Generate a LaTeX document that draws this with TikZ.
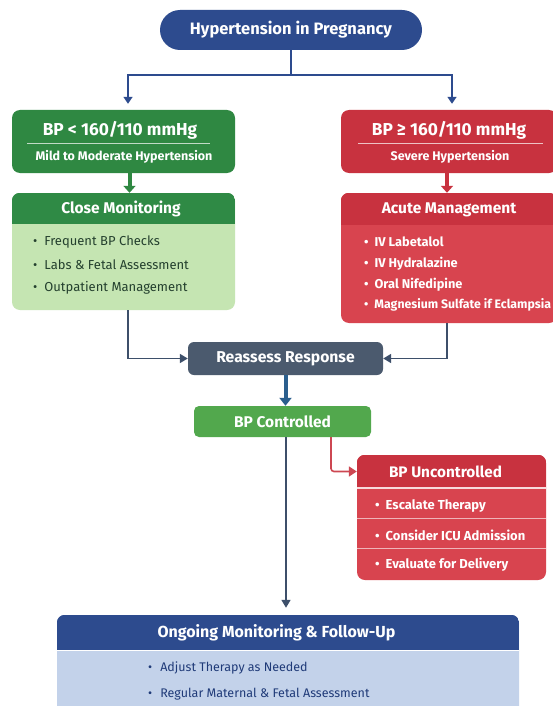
\documentclass[tikz,border=0pt]{standalone}
\usepackage{fontspec}
\setmainfont{Fira Sans}
\usetikzlibrary{arrows.meta,calc}
\definecolor{navyc}{HTML}{2D4B8E}
\definecolor{greenA}{HTML}{2F8842}
\definecolor{greenH}{HTML}{2F8A45}
\definecolor{greenL}{HTML}{C5E5B2}
\definecolor{greenT}{HTML}{24402E}
\definecolor{redA}{HTML}{C8323F}
\definecolor{redB}{HTML}{D8444F}
\definecolor{slatec}{HTML}{4B5A6E}
\definecolor{bluearr}{HTML}{2B5F8E}
\definecolor{greenC}{HTML}{52A84D}
\definecolor{blueL}{HTML}{C3D2EA}
\definecolor{navyT}{HTML}{1F3A78}
\definecolor{linec}{HTML}{3D4F6A}
\tikzset{
  panel/.style={draw=none, rounded corners=8pt, inner sep=0pt},
  hdr/.style={text=white, font=\fontsize{15.5}{18}\selectfont\bfseries},
  itm/.style={anchor=west, inner sep=0pt, font=\fontsize{13}{15}\selectfont},
  conn/.style={draw=linec, line width=1.6pt, -{Triangle[width=9pt,length=8pt]}},
  fat/.style={line width=4pt, -{Triangle[width=12pt,length=7pt]}, shorten >=0pt}
}
\begin{document}
\begin{tikzpicture}[x=1pt,y=-1pt]
\useasboundingbox (0,0) rectangle (553,706);
\fill[white] (0,0) rectangle (553,706);

% title
\node[panel, fill=navyc, rounded corners=20pt, minimum width=262pt, minimum height=40pt] (title) at (291,30) {};
\node[text=white, font=\fontsize{16.5}{19}\selectfont\bfseries] (titlet) at (title.center) {Hypertension in Pregnancy};

% left top
\node[panel, fill=greenA, minimum width=223pt, minimum height=63pt] (lb) at (123.5,141.5) {};
\node[text=white, font=\fontsize{17.3}{19}\selectfont\bfseries] (lbt) at (120,130) {BP < 160/110 mmHg};
\draw[white!70!greenA, line width=0.8pt] (27,143.5) -- (210,143.5);
\node[text=white, font=\fontsize{12.5}{14}\selectfont\bfseries] (lbs) at (124,157) {Mild to Moderate Hypertension};

% close monitoring
\node[panel, fill=greenL, minimum width=223pt, minimum height=117pt] (cm) at (123.5,251.5) {};
\begin{scope}
\clip[rounded corners=8pt] (cm.north west) rectangle (cm.south east);
\fill[greenH] (cm.north west) rectangle ($(cm.north east)+(0,31)$);
\end{scope}
\node[hdr] (cmh) at (121,209) {Close Monitoring};
\node[itm, text=greenT] (cm1) at (33,242) {•\hspace{7pt}Frequent BP Checks};
\node[itm, text=greenT] (cm2) at (33,265) {•\hspace{7pt}Labs \& Fetal Assessment};
\node[itm, text=greenT] (cm3) at (33,288) {•\hspace{7pt}Outpatient Management};

% right top
\node[panel, fill=redA, minimum width=216pt, minimum height=63pt] (rb) at (449,141.5) {};
\node[text=white, font=\fontsize{17.3}{19}\selectfont\bfseries] (rbt) at (449,130) {BP ≥ 160/110 mmHg};
\draw[white!70!redA, line width=0.8pt] (358,143.5) -- (543,143.5);
\node[text=white, font=\fontsize{12.5}{14}\selectfont\bfseries] (rbs) at (450,157) {Severe Hypertension};

% acute management
\node[panel, fill=redB, minimum width=216pt, minimum height=130pt] (am) at (449,258) {};
\begin{scope}
\clip[rounded corners=8pt] (am.north west) rectangle (am.south east);
\fill[redA] (am.north west) rectangle ($(am.north east)+(0,32)$);
\end{scope}
\node[hdr] (amh) at (449,209.5) {Acute Management};
\node[itm, text=white, font=\fontsize{12.8}{15}\selectfont\bfseries] (am1) at (364,242) {•\hspace{6pt}IV Labetalol};
\node[itm, text=white, font=\fontsize{12.8}{15}\selectfont\bfseries] (am2) at (364,264) {•\hspace{6pt}IV Hydralazine};
\node[itm, text=white, font=\fontsize{12.8}{15}\selectfont\bfseries] (am3) at (364,285) {•\hspace{6pt}Oral Nifedipine};
\node[itm, text=white, font=\fontsize{12.3}{15}\selectfont\bfseries] (am4) at (364,305) {•\hspace{6pt}Magnesium Sulfate if Eclampsia};

% reassess
\node[panel, fill=slatec, rounded corners=6pt, minimum width=195pt, minimum height=33pt, text=white, font=\fontsize{15.7}{18}\selectfont\bfseries] (rr) at (285.5,358.5) {Reassess Response};

% BP controlled
\node[panel, fill=greenC, rounded corners=5pt, minimum width=177pt, minimum height=31pt, text=white, font=\fontsize{15.5}{18}\selectfont\bfseries] (bc) at (282.5,421.5) {BP Controlled};

% BP uncontrolled
\node[panel, fill=redB, minimum width=189pt, minimum height=125pt] (bu) at (451.5,517.5) {};
\begin{scope}
\clip[rounded corners=8pt] (bu.north west) rectangle (bu.south east);
\fill[redA] (bu.north west) rectangle ($(bu.north east)+(0,32)$);
\end{scope}
\draw[white!80!redB, line width=1.5pt] ($(bu.north west)+(0,33)$) -- ($(bu.north east)+(0,33)$);
\draw[white!60!redB, line width=1pt] ($(bu.north west)+(0,64)$) -- ($(bu.north east)+(0,64)$);
\draw[white!60!redB, line width=1pt] ($(bu.north west)+(0,94)$) -- ($(bu.north east)+(0,94)$);
\node[hdr, font=\fontsize{15.3}{18}\selectfont\bfseries] (buh) at (445.5,471.5) {BP Uncontrolled};
\node[itm, text=white, font=\fontsize{13}{15}\selectfont\bfseries] (bu1) at (375,506) {•\hspace{6pt}Escalate Therapy};
\node[itm, text=white, font=\fontsize{13}{15}\selectfont\bfseries] (bu2) at (375,535) {•\hspace{6pt}Consider ICU Admission};
\node[itm, text=white, font=\fontsize{13}{15}\selectfont\bfseries] (bu3) at (375,565) {•\hspace{6pt}Evaluate for Delivery};

% ongoing
\node[panel, fill=blueL, minimum width=462pt, minimum height=115pt] (og) at (288,672.5) {};
\begin{scope}
\clip[rounded corners=8pt] (og.north west) rectangle (og.south east);
\fill[navyc] (og.north west) rectangle ($(og.north east)+(0,35)$);
\end{scope}
\draw[white, line width=1.2pt] ($(og.north west)+(0,36)$) -- ($(og.north east)+(0,36)$);
\node[hdr, font=\fontsize{16}{18}\selectfont\bfseries] (ogh) at (276.5,633) {Ongoing Monitoring \& Follow-Up};
\node[itm, text=navyT, font=\fontsize{12.5}{15}\selectfont] (og1) at (148,668) {•\hspace{8pt}Adjust Therapy as Needed};
\node[itm, text=navyT, font=\fontsize{12.5}{15}\selectfont] (og2) at (148,694) {•\hspace{8pt}Regular Maternal \& Fetal Assessment};

% connectors
\coordinate (j) at (291,75);
\coordinate (lbx) at ($(lb.north)+(4.5,0)$);
\coordinate (rbx) at ($(rb.north)+(3,0)$);
\draw[navyc, line width=1.6pt] (title.south) -- (j);
\draw[navyc, line width=1.6pt, -{Triangle[width=9pt,length=7pt]}, shorten >=6pt] (j) -| (lbx);
\draw[navyc, line width=1.6pt, -{Triangle[width=9pt,length=7pt]}, shorten >=6pt] (j) -| (rbx);
\coordinate (lbs1) at ($(lb.south)+(6,0)$);
\coordinate (rbs1) at ($(rb.south)+(-2,0)$);
\draw[fat, greenA] (lbs1) -- (lbs1 |- cm.north);
\draw[fat, redA] (rbs1) -- (rbs1 |- am.north);
\coordinate (cmx) at ($(cm.south)+(4.5,0)$);
\coordinate (amx) at ($(am.south)+(-2,0)$);
\draw[conn] (cmx) |- (rr.west);
\draw[conn] (amx) |- (rr.east);
\draw[fat, bluearr, -{Triangle[width=12pt,length=8pt]}] (rr.south) -- (rr.south |- bc.north);
\coordinate (bcx) at ($(bc.south)+(3.5,0)$);
\coordinate (ogx) at (bcx |- og.north);
\draw[conn, shorten >=7pt] (bcx) -- (ogx);
\coordinate (bcr) at ($(bc.south)+(48.5,0)$);
\draw[draw=redA!90!white, line width=1.6pt, rounded corners=3pt, -{Triangle[width=10pt,length=8pt]}] (bcr) |- (bu.west |- buh.west);
\end{tikzpicture}
\end{document}
